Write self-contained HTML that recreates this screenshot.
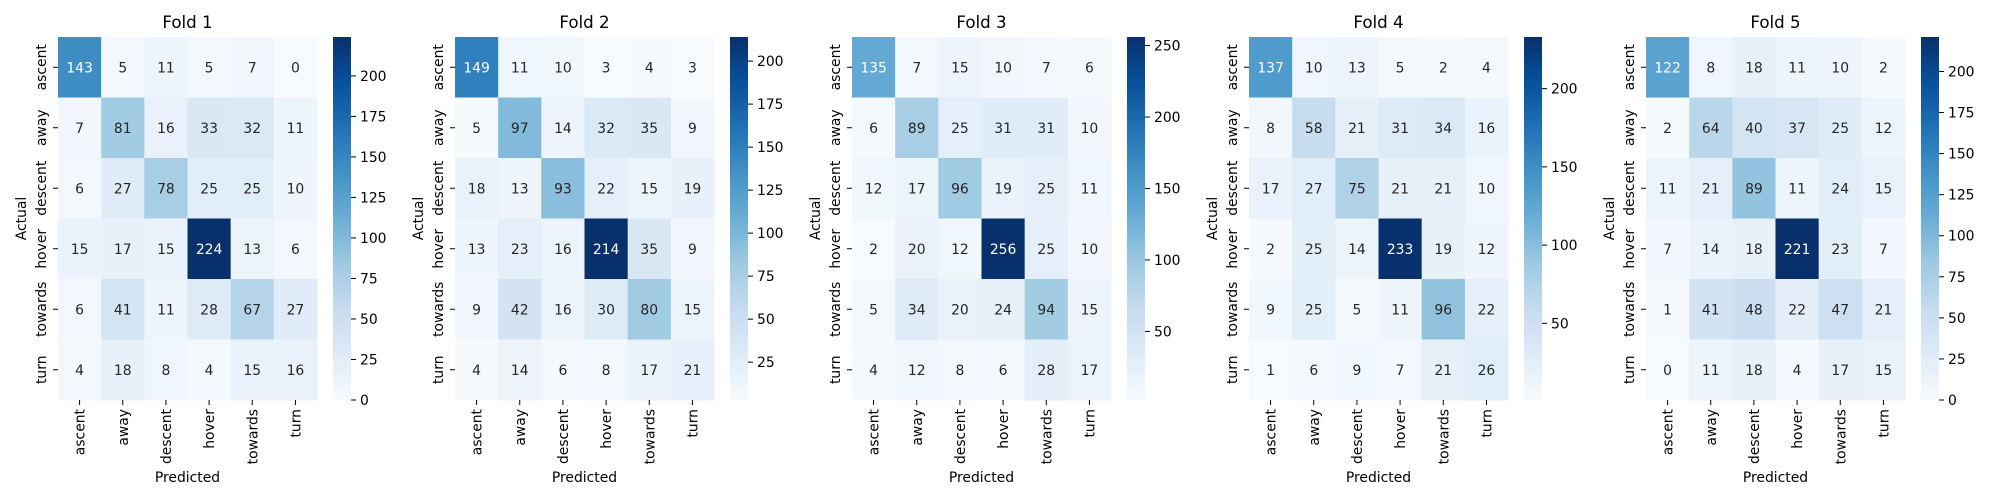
<!DOCTYPE html>
<html><head><meta charset="utf-8"><style>
html,body{margin:0;padding:0;background:#fff;}
svg{display:block;font-family:"DejaVu Sans","Liberation Sans",sans-serif;}
</style></head><body>
<svg id="fig" width="2000" height="500" viewBox="0 0 2000 500" xmlns="http://www.w3.org/2000/svg">
<defs>
<linearGradient id="blues" x1="0" y1="1" x2="0" y2="0">
<stop offset="0" stop-color="#f7fbff"/><stop offset="0.125" stop-color="#deebf7"/><stop offset="0.25" stop-color="#c6dbef"/><stop offset="0.375" stop-color="#9ecae1"/><stop offset="0.5" stop-color="#6baed6"/><stop offset="0.625" stop-color="#4292c6"/><stop offset="0.75" stop-color="#2171b5"/><stop offset="0.875" stop-color="#08519c"/><stop offset="1" stop-color="#08306b"/>
</linearGradient>
</defs>
</svg>
<script>
const labels = ["ascent","away","descent","hover","towards","turn"];
const foldTitles = ["Fold 1","Fold 2","Fold 3","Fold 4","Fold 5"];
const fold1 = [[143,5,11,5,7,0],[7,81,16,33,32,11],[6,27,78,25,25,10],[15,17,15,224,13,6],[6,41,11,28,67,27],[4,18,8,4,15,16]];
const fold2 = [[149,11,10,3,4,3],[5,97,14,32,35,9],[18,13,93,22,15,19],[13,23,16,214,35,9],[9,42,16,30,80,15],[4,14,6,8,17,21]];
const fold3 = [[135,7,15,10,7,6],[6,89,25,31,31,10],[12,17,96,19,25,11],[2,20,12,256,25,10],[5,34,20,24,94,15],[4,12,8,6,28,17]];
const fold4 = [[137,10,13,5,2,4],[8,58,21,31,34,16],[17,27,75,21,21,10],[2,25,14,233,19,12],[9,25,5,11,96,22],[1,6,9,7,21,26]];
const fold5 = [[122,8,18,11,10,2],[2,64,40,37,25,12],[11,21,89,11,24,15],[7,14,18,221,23,7],[1,41,48,22,47,21],[0,11,18,4,17,15]];
const folds = [fold1, fold2, fold3, fold4, fold5];
const cbTicks1 = [0,25,50,75,100,125,150,175,200];
const cbTicks2 = [25,50,75,100,125,150,175,200];
const cbTicks3 = [50,100,150,200,250];
const cbTicks4 = [50,100,150,200];
const cbTicks5 = [0,25,50,75,100,125,150,175,200];
const cbTicks = [cbTicks1, cbTicks2, cbTicks3, cbTicks4, cbTicks5];

const stops = ["#f7fbff","#deebf7","#c6dbef","#9ecae1","#6baed6","#4292c6","#2171b5","#08519c","#08306b"].map(h=>[1,3,5].map(i=>parseInt(h.substr(i,2),16)));
function blues(t){
  t=Math.max(0,Math.min(1,t)); const p=t*8; const i=Math.min(7,Math.floor(p)); const f=p-i;
  return stops[i].map((c,k)=>c+(stops[i+1][k]-c)*f);
}
function lum(rgb){
  const c=rgb.map(v=>{v/=255;return v<=0.03928?v/12.92:Math.pow((v+0.055)/1.055,2.4);});
  return 0.2126*c[0]+0.7152*c[1]+0.0722*c[2];
}
const NS="http://www.w3.org/2000/svg";
const svg=document.getElementById('fig');
function el(tag,attrs,parent,text){const e=document.createElementNS(NS,tag);for(const k in attrs)e.setAttribute(k,attrs[k]);if(text!==undefined)e.textContent=text;(parent||svg).appendChild(e);return e;}

const L0=58, STEP=397, TOP=37, W=259, H=363, CBOFF=275, CBW=18;
const n=labels.length, cw=W/n, ch=H/n;
folds.forEach((m,fi)=>{
  const g=el('g',{});
  
  
  const left=L0+STEP*fi;
  const flat=m.flat(); const vmin=Math.min(...flat), vmax=Math.max(...flat);
  const x=j=>left+j*cw, y=i=>TOP+i*ch;
  const t=el('text',{x:left+W/2,y:28,'text-anchor':'middle','font-size':'16.7px',fill:'#000'},g,foldTitles[fi]);
  
  
  m.forEach((row,i)=>row.forEach((v,j)=>{
    const c=blues((v-vmin)/(vmax-vmin));
    const r=el('rect',{x:x(j),y:y(i),width:cw+0.5,height:ch+0.5,fill:`rgb(${c.map(Math.round).join(',')})`},g);
    
    
    const tx=el('text',{x:x(j)+cw/2,y:y(i)+ch/2+5,'text-anchor':'middle','font-size':'13.9px',fill:lum(c)>0.408?'#262626':'#ffffff'},g,String(v));
    
    
  }));
  labels.forEach((lb,i)=>{
    const cy=y(i)+ch/2;
    el('line',{x1:left-5,x2:left,y1:cy,y2:cy,stroke:'#000','stroke-width':1},g);
    const yl=el('text',{x:0,y:0,'text-anchor':'middle','font-size':'13.9px',fill:'#000',transform:`translate(${left-12},${cy}) rotate(-90)`},g,lb);
    
    
    const cx=x(i)+cw/2;
    el('line',{x1:cx,x2:cx,y1:TOP+H,y2:TOP+H+5,stroke:'#000','stroke-width':1},g);
    const xl=el('text',{x:0,y:0,'text-anchor':'end','font-size':'13.9px',fill:'#000',transform:`translate(${cx+5},${TOP+H+9}) rotate(-90)`},g,lb);
    
    
  });
  const ya=el('text',{x:0,y:0,'text-anchor':'middle','font-size':'13.9px',fill:'#000',transform:`translate(${left-32},${TOP+H/2}) rotate(-90)`},g,'Actual');
  
  
  const xa=el('text',{x:left+W/2,y:482,'text-anchor':'middle','font-size':'13.9px',fill:'#000'},g,'Predicted');
  
  
  const cbx=left+CBOFF;
  const cb=el('rect',{x:cbx,y:TOP,width:CBW,height:H,fill:'url(#blues)'},g);
  
  
  cbTicks[fi].forEach(tv=>{
    const ty=TOP+H-(tv-vmin)/(vmax-vmin)*H;
    el('line',{x1:cbx+CBW,x2:cbx+CBW+5,y1:ty,y2:ty,stroke:'#000','stroke-width':1},g);
    const cl=el('text',{x:cbx+CBW+9,y:ty+5,'font-size':'13.9px',fill:'#000'},g,String(tv));
    
    
  });
});
</script>
</body></html>
